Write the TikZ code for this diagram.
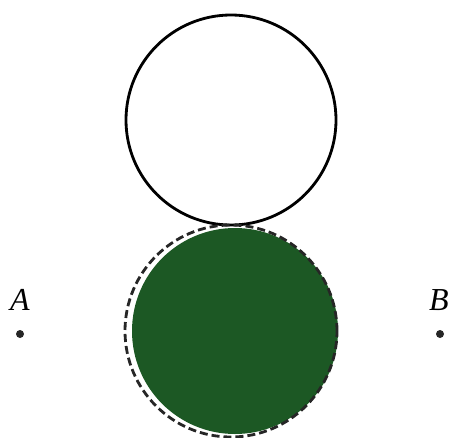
\documentclass[tikz,border=0pt]{standalone}
\usepackage{fontspec}
\setmainfont{Liberation Serif}
\definecolor{leafgreen}{RGB}{28,88,36}
\begin{document}
\begin{tikzpicture}[x=1pt,y=-1pt,
  ring/.style={circle,draw=black,line width=2.8pt,minimum size=210pt,inner sep=0pt},
  disc/.style={circle,fill=leafgreen,minimum size=206pt,inner sep=0pt},
  dashring/.style={circle,draw=black!85,line width=2.8pt,dash pattern=on 8pt off 4pt,minimum size=212pt,inner sep=0pt},
  pt/.style={circle,fill=black!85,minimum size=8pt,inner sep=0pt},
  lab/.style={font=\fontsize{32}{32}\selectfont\itshape}]
\useasboundingbox (0,0) rectangle (450,437);
\node[ring] (top) at (231,120) {};
\node[disc] (green) at (235,331) {};
\node[dashring] (ghost) at (231,331) {};
\node[pt] (a) at (20,334) {};
\node[pt] (b) at (440,334) {};
\node[lab] (la) at (20,300) {A};
\node[lab] (lb) at (439,300) {B};
\end{tikzpicture}
\end{document}
